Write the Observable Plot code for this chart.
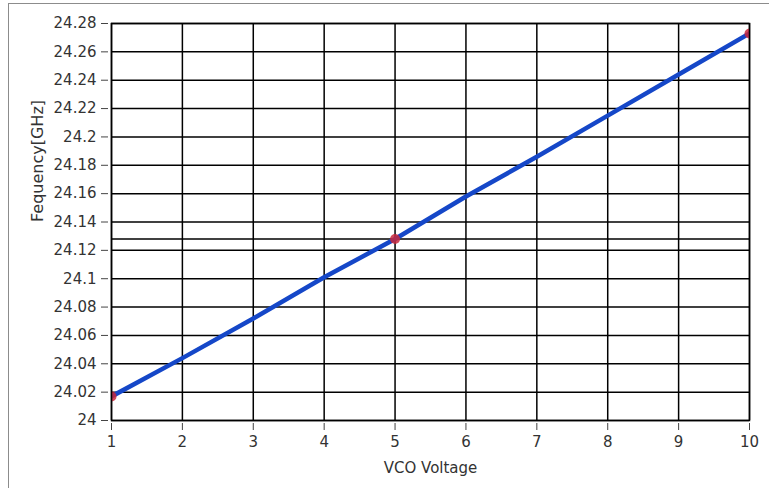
<!DOCTYPE html>
<html>
<head>
<meta charset="utf-8">
<script src="https://cdn.jsdelivr.net/npm/d3@7"></script>
<script src="https://cdn.jsdelivr.net/npm/@observablehq/plot@0.6"></script>
<style>
  html, body { margin: 0; padding: 0; background: #fff; }
  #wrap { position: relative; width: 769px; height: 488px; overflow: hidden; }
  #panel { position: absolute; left: 8px; top: 3px; width: 900px; height: 600px; border: 1px solid #8c8c8c; box-sizing: border-box; }
  #chart { position: absolute; left: 0; top: 0; }
  #chart svg text { font-size: 15px; }
  #chart svg .ylab text { font-size: 16px; }
</style>
</head>
<body>
<div id="wrap"><div id="panel"></div><div id="chart"></div></div>
<script>
// Data
const voltage = [1, 2, 3, 4, 5, 6, 7, 8, 9, 10];
const frequency = [24.017, 24.044, 24.072, 24.101, 24.128, 24.158, 24.186, 24.215, 24.244, 24.273];
const markerVoltage = [1, 5, 10];
const markerFrequency = [24.017, 24.128, 24.273];
const cursorFrequency = [24.128];
const xTicks = [1, 2, 3, 4, 5, 6, 7, 8, 9, 10];
const yTicks = [24, 24.02, 24.04, 24.06, 24.08, 24.1, 24.12, 24.14, 24.16, 24.18, 24.2, 24.22, 24.24, 24.26, 24.28];
const xLabel = "VCO Voltage";
const yLabel = "Fequency[GHz]";

const line = voltage.map((v, i) => ({v, f: frequency[i]}));
const markers = markerVoltage.map((v, i) => ({v, f: markerFrequency[i]}));

const chart = Plot.plot({
  width: 769,
  height: 488,
  marginLeft: 111,
  marginRight: 20,
  marginTop: 23,
  marginBottom: 68,
  style: {fontFamily: "DejaVu Sans, sans-serif", fontSize: "15px", background: "transparent", color: "#333"},
  x: {domain: [1, 10]},
  y: {domain: [24, 24.28]},
  marks: [
    Plot.gridX(xTicks, {stroke: "#000", strokeOpacity: 1, strokeWidth: 1.5}),
    Plot.gridY(yTicks, {stroke: "#000", strokeOpacity: 1, strokeWidth: 1.5}),
    Plot.ruleY(cursorFrequency, {stroke: "#000", strokeWidth: 1.5}),
    Plot.line(line, {x: "v", y: "f", stroke: "#1547c8", strokeWidth: 4.5, clip: true}),
    Plot.dot(markers, {x: "v", y: "f", r: 5, fill: "#c8283c", fillOpacity: 0.85, stroke: "none", clip: true}),
    Plot.frame({stroke: "#000", strokeWidth: 1.5}),
    Plot.axisY(yTicks, {
      tickSize: 7, dx: -3, tickPadding: 5, stroke: "#444", fill: "#333",
      tickFormat: d => String(+d.toFixed(2)),
      fontSize: 15, label: null
    }),
    Plot.axisX(xTicks, {
      tickSize: 7, dy: 3, tickPadding: 6, stroke: "#444", fill: "#333",
      tickFormat: d => String(d), fontSize: 15,
      label: xLabel, labelAnchor: "center", labelArrow: "none", labelOffset: 52
    }),
    Plot.text([yLabel], {frameAnchor: "left", rotate: -90, dx: -74, fontSize: 16, fill: "#333", className: "ylab"})
  ]
});
document.getElementById("chart").appendChild(chart);
</script>
</body>
</html>
